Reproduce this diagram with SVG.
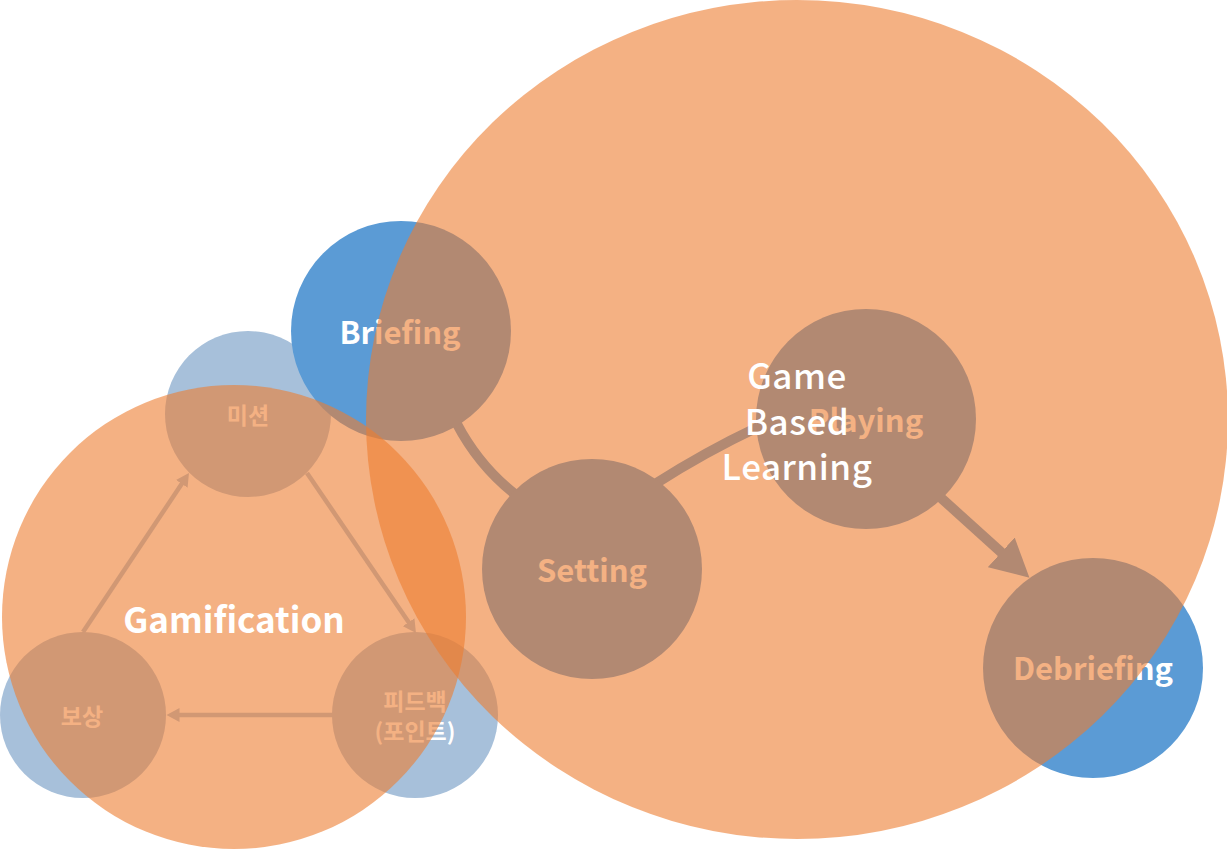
<svg xmlns="http://www.w3.org/2000/svg" width="1227" height="851" viewBox="0 0 1227 851">
<defs>
<style>
.node{fill:#5B9BD5}
.sub{fill:#A7C0DA}
.overlay{fill:#ED7D31;fill-opacity:0.6}
.lbl{font-family:"Noto Sans CJK KR","Noto Sans",sans-serif;font-weight:700;fill:#FFFFFF;text-anchor:middle}
.big{font-size:31px}
.small{font-size:23px}
.title{font-size:35px}
.gbl{font-size:35px;font-weight:500;letter-spacing:0.5px}
.conn{fill:none;stroke:#5B9BD5;stroke-width:10}
.subconn{fill:none;stroke:#A7C0DA;stroke-width:4.5}
</style>
<marker id="bigArrow" markerUnits="userSpaceOnUse" markerWidth="40" markerHeight="40" refX="1" refY="20" orient="auto"><path d="M0,0 L38,20 L0,40 Z" fill="#5B9BD5"/></marker>
<marker id="smallArrow" markerUnits="userSpaceOnUse" markerWidth="14" markerHeight="14" refX="1" refY="7" orient="auto"><path d="M0,0 L13,7 L0,14 Z" fill="#A7C0DA"/></marker>
</defs>
<rect width="1227" height="851" fill="#FFFFFF"/>
<g id="connectors">
<path class="subconn" d="M83,632 L182.3,483" marker-end="url(#smallArrow)"/>
<path class="subconn" d="M307,473 L409.2,623.1" marker-end="url(#smallArrow)"/>
<path class="subconn" d="M333,715 L178.5,715" marker-end="url(#smallArrow)"/>
<path class="conn" d="M457,424 Q479,466 516,495"/>
<path class="conn" d="M655,484 Q705,452 758,427"/>
<path class="conn" d="M940,497 L1002,553" marker-end="url(#bigArrow)"/>
</g>
<g id="mission">
<circle class="sub" cx="248" cy="414" r="83"/>
<text class="lbl small" x="248" y="423.5">미션</text>
</g>
<g id="reward">
<circle class="sub" cx="83" cy="715" r="83"/>
<text class="lbl small" x="82" y="724.5">보상</text>
</g>
<g id="feedback">
<circle class="sub" cx="415" cy="715" r="83"/>
<text class="lbl small" x="415" y="710">피드백</text>
<text class="lbl small" x="415" y="739.5">(포인트)</text>
</g>
<g id="briefing">
<circle class="node" cx="401" cy="331" r="110"/>
<text class="lbl big" x="400" y="343.5">Briefing</text>
</g>
<g id="setting">
<circle class="node" cx="592" cy="569" r="110"/>
<text class="lbl big" x="592" y="582">Setting</text>
</g>
<g id="playing">
<circle class="node" cx="866" cy="419" r="110"/>
<text class="lbl big" x="866" y="432">Playing</text>
</g>
<g id="debriefing">
<circle class="node" cx="1093" cy="668" r="110"/>
<text class="lbl big" x="1093" y="680">Debriefing</text>
</g>
<g id="gamification">
<circle class="overlay" cx="234" cy="617" r="232"/>
<text class="lbl title" x="234" y="633">Gamification</text>
</g>
<g id="game-based-learning">
<ellipse class="overlay" cx="797" cy="419.5" rx="431" ry="419.5"/>
<text class="lbl gbl" x="797" y="389">Game</text>
<text class="lbl gbl" x="797" y="435">Based</text>
<text class="lbl gbl" x="797" y="480">Learning</text>
</g>
</svg>
